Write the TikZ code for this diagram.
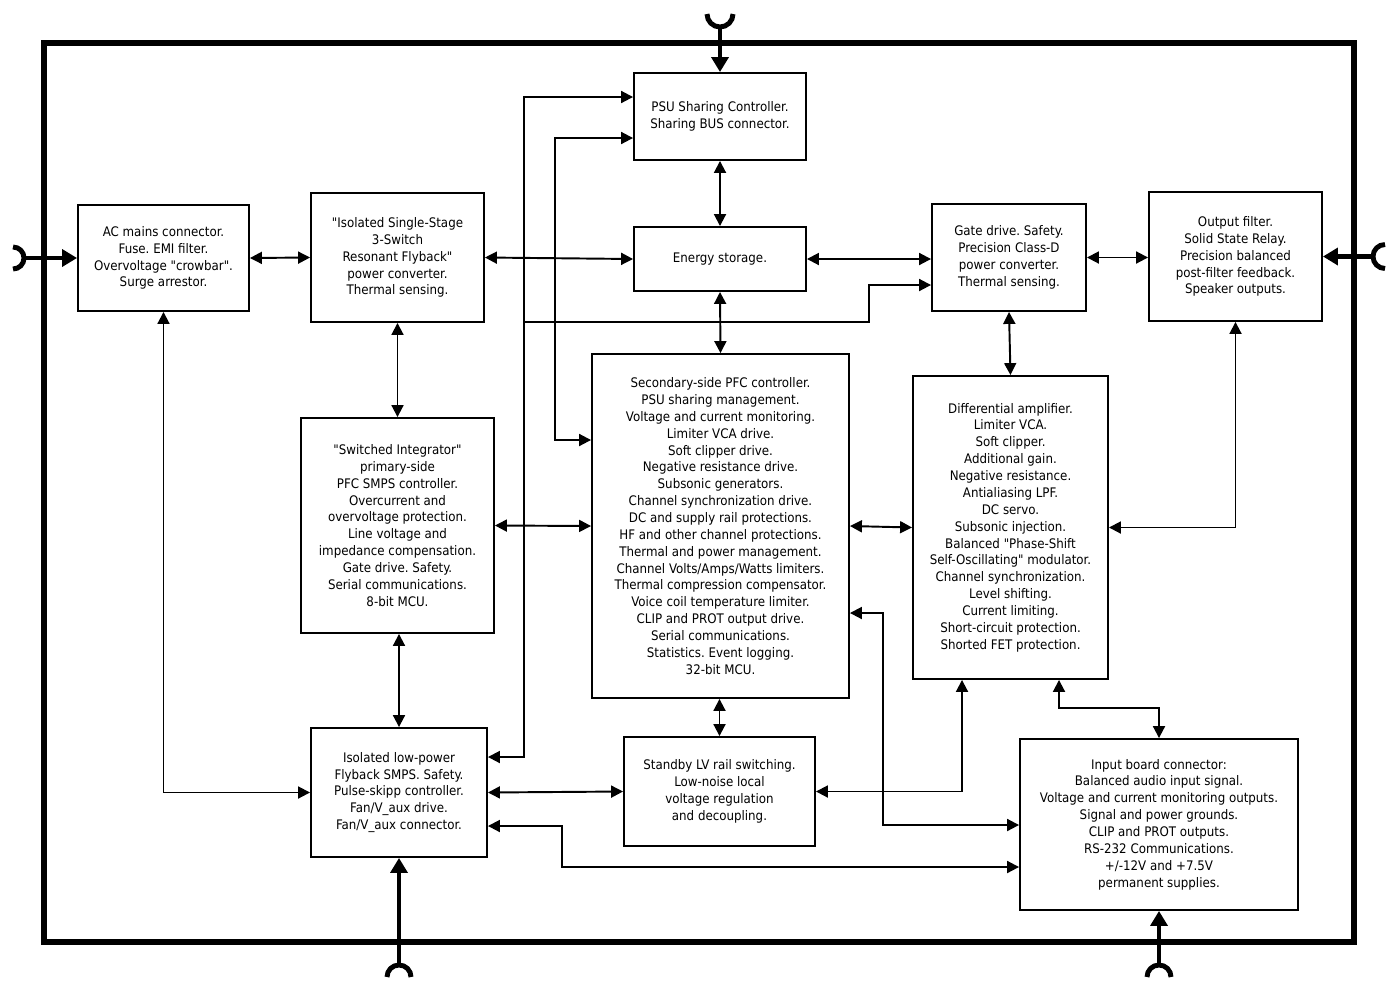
\documentclass[tikz,border=0pt]{standalone}
\usepackage{fontspec}
\setmainfont{DejaVu Sans Condensed}[Ligatures=TeXOff]
\usetikzlibrary{arrows.meta}
\frenchspacing

\tikzset{
  blk/.style={draw,line width=1.1pt,align=center,inner sep=0pt,
              font=\fontsize{7.5}{9.6}\selectfont},
  link/.style={line width=1.1pt,
               {Triangle[length=6.8pt,width=6.8pt]}-{Triangle[length=6.8pt,width=6.8pt]}},
  feed/.style={line width=1.1pt,-{Triangle[length=6.8pt,width=6.8pt]}},
  mains/.style={line width=2.8pt,-{Triangle[length=8.5pt,width=9.6pt]}},
  plug/.style={line width=2.8pt},
  frame/.style={line width=3.4pt},
}

\begin{document}
\begin{tikzpicture}[x=0.02cm,y=-0.02cm,line join=miter]

  \useasboundingbox (0,0) rectangle (1400,991);
  \draw[frame] (44,43) rectangle (1354,942);

  % blocks
  \node[blk,minimum width=3.42cm,minimum height=2.12cm] (acm) at (163.5,258)
    {AC mains connector.\\ Fuse. EMI filter.\\ Overvoltage "crowbar".\\ Surge arrestor.};
  \node[blk,minimum width=3.46cm,minimum height=2.58cm] (fly) at (397.5,257.5)
    {"Isolated Single-Stage\\ 3-Switch\\ Resonant Flyback"\\ power converter.\\ Thermal sensing.};
  \node[blk,minimum width=3.44cm,minimum height=1.74cm] (psu) at (720,116.5)
    {PSU Sharing Controller.\\ Sharing BUS connector.};
  \node[blk,minimum width=3.44cm,minimum height=1.28cm] (est) at (720,259)
    {Energy storage.};
  \node[blk,minimum width=3.08cm,minimum height=2.14cm] (gate) at (1009,257.5)
    {Gate drive. Safety.\\ Precision Class-D\\ power converter.\\ Thermal sensing.};
  \node[blk,minimum width=3.46cm,minimum height=2.58cm] (outf) at (1235.5,256.5)
    {Output filter.\\ Solid State Relay.\\ Precision balanced\\ post-filter feedback.\\ Speaker outputs.};
  \node[blk,minimum width=3.86cm,minimum height=4.30cm] (swi) at (397.5,525.5)
    {"Switched Integrator"\\ primary-side\\ PFC SMPS controller.\\ Overcurrent and\\
     overvoltage protection.\\ Line voltage and\\ impedance compensation.\\
     Gate drive. Safety.\\ Serial communications.\\ 8-bit MCU.};
  \node[blk,minimum width=5.14cm,minimum height=6.88cm] (sec) at (720.5,526)
    {Secondary-side PFC controller.\\ PSU sharing management.\\
     Voltage and current monitoring.\\ Limiter VCA drive.\\ Soft clipper drive.\\
     Negative resistance drive.\\ Subsonic generators.\\ Channel synchronization drive.\\
     DC and supply rail protections.\\ HF and other channel protections.\\
     Thermal and power management.\\ Channel Volts/Amps/Watts limiters.\\
     Thermal compression compensator.\\ Voice coil temperature limiter.\\
     CLIP and PROT output drive.\\ Serial communications.\\
     Statistics. Event logging.\\ 32-bit MCU.};
  \node[blk,minimum width=3.90cm,minimum height=6.06cm] (diff) at (1010.5,527.5)
    {Differential amplifier.\\ Limiter VCA.\\ Soft clipper.\\ Additional gain.\\
     Negative resistance.\\ Antialiasing LPF.\\ DC servo.\\ Subsonic injection.\\
     Balanced "Phase-Shift\\ Self-Oscillating" modulator.\\ Channel synchronization.\\
     Level shifting.\\ Current limiting.\\ Short-circuit protection.\\ Shorted FET protection.};
  \node[blk,minimum width=3.52cm,minimum height=2.58cm] (lowp) at (399,792.5)
    {Isolated low-power\\ Flyback SMPS. Safety.\\ Pulse-skipp controller.\\
     Fan/V\_aux drive.\\ Fan/V\_aux connector.};
  \node[blk,minimum width=3.82cm,minimum height=2.18cm] (stby) at (719.5,791.5)
    {Standby LV rail switching.\\ Low-noise local\\ voltage regulation\\ and decoupling.};
  \node[blk,minimum width=5.56cm,minimum height=3.42cm] (inb) at (1159,824.5)
    {Input board connector:\\ Balanced audio input signal.\\
     Voltage and current monitoring outputs.\\ Signal and power grounds.\\
     CLIP and PROT outputs.\\ RS-232 Communications.\\ +/-12V and +7.5V\\ permanent supplies.};

  % outside connectors
  \coordinate (plugL) at (24,258);
  \coordinate (plugT) at (720,27);
  \coordinate (plugR) at (1373,256.5);
  \coordinate (plugB1) at (399,965);
  \coordinate (plugB2) at (1159,965);
  \draw[plug] (plugL) ++(-11,0) ++(0,-11) arc[start angle=-90,end angle=90,radius=11];
  \draw[plug] (plugT) ++(-13,-13) arc[start angle=180,end angle=0,radius=13];
  \draw[plug] (plugR) ++(12,-12) arc[start angle=-90,end angle=-270,radius=12];
  \draw[plug] (plugB1) ++(-12,12) arc[start angle=180,end angle=360,radius=12];
  \draw[plug] (plugB2) ++(-12,12) arc[start angle=180,end angle=360,radius=12];
  \draw[mains] (plugL) -- (acm.west);
  \draw[mains] (plugT) -- (psu.north);
  \draw[mains] (plugR) -- (outf.east);
  \draw[mains] (plugB1) -- (lowp.south);
  \draw[mains] (plugB2) -- (inb.south);

  % links
  \draw[link] (acm.east) -- (fly.west);
  \draw[link] (fly.east) -- (est.west);
  \draw[link] (psu.south) -- (est.north);
  \draw[link] (est.east) -- (gate.west |- est.east);
  \draw[link] (gate.east) -- (outf.west |- gate.east);
  \draw[link] (est.south) -- (sec.north);
  \draw[link] (acm.south) |- (lowp.west);
  \draw[link] (fly.south) -- (swi.north);
  \draw[link] (swi.east) -- (sec.west);
  \draw[link] (swi.south -| lowp.south) -- (lowp.north);
  \draw[link] (sec.east) -- (diff.west);
  \draw[link] (gate.south) -- (diff.north);
  \draw[link] (outf.south) |- (diff.east);
  \draw[link] (sec.south -| stby.north) -- (stby.north);
  \draw[link] (lowp.east) -- (stby.west);
  \draw[link] (lowp.east |- 0,757) -- ++(36,0) |- (psu.west |- 0,97);
  \draw[link] (psu.west |- 0,138) -- ++(-78,0) |- (sec.west |- 0,440);
  \draw[feed] (523,322) -- (869,322) |- (gate.west |- 0,285);
  \draw[link] (diff.south -| 962,0) |- (stby.east);
  \draw[link] (diff.south -| 1059,0) -- ++(0,28) -| (inb.north);
  \draw[link] (sec.east |- 0,613) -- ++(33,0) |- (inb.west |- 0,825);
  \draw[link] (lowp.east |- 0,826) -- ++(74,0) |- (inb.west |- 0,867);

\end{tikzpicture}
\end{document}
